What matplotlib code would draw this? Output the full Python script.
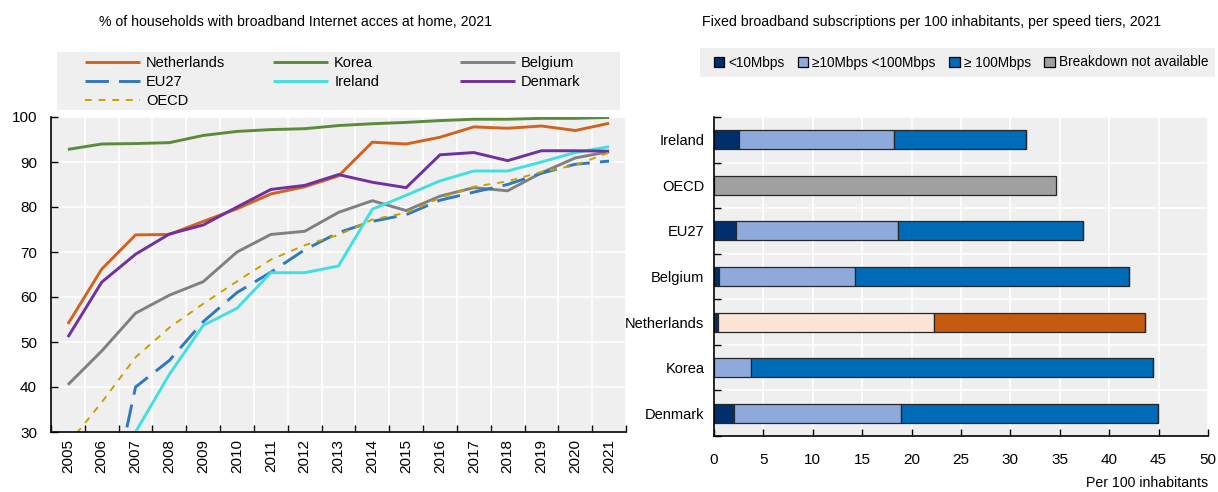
import matplotlib
matplotlib.use("Agg")
import matplotlib.pyplot as plt
import matplotlib.patches as mpatches
import numpy as np

plt.rcParams['font.family'] = ['Liberation Sans', 'DejaVu Sans']

# Households with broadband access, % (2005-2021)
years = list(range(2005, 2022))
netherlands = [54.0, 66.2, 73.8, 73.9, 76.8, 79.6, 82.9, 84.5, 86.9, 94.4, 94.0, 95.5, 97.8, 97.5, 98.0, 97.0, 98.6]
korea = [92.8, 94.0, 94.1, 94.3, 95.9, 96.8, 97.2, 97.4, 98.1, 98.5, 98.8, 99.2, 99.5, 99.5, 99.7, 99.7, 99.9]
belgium = [40.5, 48.0, 56.4, 60.4, 63.4, 70.0, 73.9, 74.6, 78.8, 81.4, 79.2, 82.4, 84.3, 83.6, 87.6, 90.9, 92.3]
eu27 = [np.nan, 5.0, 40.0, 45.9, 54.5, 61.0, 65.5, 70.5, 74.3, 76.8, 78.3, 81.5, 83.3, 85.0, 87.5, 89.5, 90.2]
ireland = [np.nan, np.nan, 30.0, 42.8, 53.7, 57.5, 65.4, 65.4, 66.9, 79.5, 82.6, 85.8, 88.0, 88.0, 90.0, 92.1, 93.4]
denmark = [51.1, 63.3, 69.5, 74.0, 76.0, 80.0, 83.9, 84.8, 87.2, 85.5, 84.3, 91.6, 92.1, 90.3, 92.5, 92.5, 92.4]
oecd = [27.3, 36.6, 46.6, 53.2, 58.5, 63.5, 68.3, 71.5, 73.8, 77.2, 78.7, 82.0, 84.5, 85.7, 87.8, 89.3, 92.1]

# Fixed broadband subscriptions per 100 inhabitants by speed tier, 2021
countries = ['Ireland', 'OECD', 'EU27', 'Belgium', 'Netherlands', 'Korea', 'Denmark']
below_10 = [2.5, 0.0, 2.25, 0.55, 0.4, 0.0, 2.0]
mid_10_100 = [15.7, 0.0, 16.35, 13.75, 21.9, 3.7, 16.9]
above_100 = [13.4, 0.0, 18.7, 27.7, 21.3, 40.7, 26.0]
not_available = [0.0, 34.6, 0.0, 0.0, 0.0, 0.0, 0.0]

BG = '#efefef'
W, H = 1218, 492
fig = plt.figure(figsize=(W / 100, H / 100), dpi=100)

# ---- left: line chart ----
ax1 = fig.add_axes([51 / W, 1 - 432 / H, 575 / W, 315 / H])
ax1.set_facecolor(BG)
x = np.arange(len(years))
series = [
    ('Netherlands', netherlands, dict(color='#d0641e', lw=2.1)),
    ('Korea', korea, dict(color='#5a8a3a', lw=2.1)),
    ('Belgium', belgium, dict(color='#808080', lw=2.1)),
    ('EU27', eu27, dict(color='#2e78c2', lw=2.1, dashes=(8, 3.5))),
    ('Ireland', ireland, dict(color='#40e0e0', lw=2.1)),
    ('Denmark', denmark, dict(color='#7030a0', lw=2.1)),
    ('OECD', oecd, dict(color='#c9a000', lw=1.4, dashes=(3.5, 3.5))),
]
handles = {}
for name, vals, kw in series:
    ln, = ax1.plot(x, vals, label=name, solid_capstyle='butt', **kw)
    handles[name] = ln

ax1.set_xlim(-0.5, len(years) - 0.5)
ax1.set_ylim(30, 100)
ax1.set_yticks(range(30, 101, 10))
ax1.set_xticks(x)
ax1.set_xticklabels([str(y) for y in years], rotation=90)
ax1.set_xticks(np.arange(-0.5, len(years), 1), minor=True)
ax1.tick_params(axis='x', which='major', length=0, pad=5, labelsize=11)
ax1.tick_params(axis='x', which='minor', direction='in', length=5, width=1)
ax1.tick_params(axis='y', direction='in', length=5, width=1, pad=10, labelsize=11)
ax1.grid(axis='y', color='white', lw=1.2)
ax1.grid(axis='x', which='minor', color='white', lw=1.2)
ax1.set_axisbelow(True)
for s in ['top', 'right']:
    ax1.spines[s].set_visible(False)
for s in ['left', 'bottom']:
    ax1.spines[s].set_linewidth(1.2)

fig.text(296 / W, 1 - 22 / H, '% of households with broadband Internet acces at home, 2021',
         ha='center', va='center', fontsize=10.2)

# legend box with three columns
fig.patches.append(mpatches.Rectangle((57 / W, 1 - 110 / H), 563 / W, 58 / H,
                                      transform=fig.transFigure, facecolor=BG, edgecolor='none'))
cols = [['Netherlands', 'EU27', 'OECD'], ['Korea', 'Ireland'], ['Belgium', 'Denmark']]
col_x = [82, 270, 457]
for names, cx in zip(cols, col_x):
    fig.legend([handles[n] for n in names], names, loc='upper left',
               bbox_to_anchor=(cx / W, 1 - 53 / H), frameon=False, fontsize=10.5,
               handlelength=3.8, handletextpad=0.4, labelspacing=0.36, borderpad=0.2,
               borderaxespad=0)

# ---- right: stacked bars ----
ax2 = fig.add_axes([714 / W, 1 - 436 / H, 494 / W, 319 / H])
ax2.set_facecolor(BG)
yy = np.arange(len(countries))[::-1]
h = 0.42
edge = dict(edgecolor='#262626', linewidth=0.9)
nl = countries.index('Netherlands')
c_mid = ['#fbe4d5' if i == nl else '#8eaadc' for i in range(len(countries))]
c_hi = ['#c55a11' if i == nl else '#006bb6' for i in range(len(countries))]
left = np.zeros(len(countries))
ax2.barh(yy, below_10, left=left, height=h, color='#002f6c', **edge)
left += below_10
ax2.barh(yy, mid_10_100, left=left, height=h, color=c_mid, **edge)
left += mid_10_100
ax2.barh(yy, above_100, left=left, height=h, color=c_hi, **edge)
left += above_100
ax2.barh(yy, not_available, left=left, height=h, color='#a0a0a0', **edge)

ax2.set_xlim(0, 50)
ax2.set_ylim(-0.5, len(countries) - 0.5)
ax2.set_xticks(range(0, 51, 5))
ax2.set_yticks(yy)
ax2.set_yticklabels(countries)
ax2.set_yticks(np.arange(-0.5, len(countries), 1), minor=True)
ax2.tick_params(axis='y', which='major', length=0, pad=7, labelsize=10.5)
ax2.tick_params(axis='y', which='minor', direction='in', length=5, width=1)
ax2.tick_params(axis='x', direction='in', length=5, width=1, pad=12, labelsize=11)
ax2.grid(axis='x', color='white', lw=1.2)
ax2.grid(axis='y', which='minor', color='white', lw=1.2)
ax2.set_axisbelow(True)
for s in ['top', 'right']:
    ax2.spines[s].set_visible(False)
for s in ['left', 'bottom']:
    ax2.spines[s].set_linewidth(1.2)

fig.text(932 / W, 1 - 22 / H,
         'Fixed broadband subscriptions per 100 inhabitants, per speed tiers, 2021',
         ha='center', va='center', fontsize=10.2)
fig.text(1208 / W, 1 - 483 / H, 'Per 100 inhabitants', ha='right', va='center', fontsize=10.2)

tier_labels = ['<10Mbps', '\u226510Mbps <100Mbps', '\u2265 100Mbps', 'Breakdown not available']
tier_colors = ['#002f6c', '#8eaadc', '#006bb6', '#a0a0a0']
patches = [mpatches.Patch(facecolor=c, edgecolor='black', linewidth=0.9, label=l)
           for c, l in zip(tier_colors, tier_labels)]
fig.patches.append(mpatches.Rectangle((700 / W, 1 - 77 / H), 515 / W, 29 / H,
                                      transform=fig.transFigure, facecolor=BG, edgecolor='none'))
fig.legend(handles=patches, loc='center', ncol=4,
           bbox_to_anchor=(961 / W, 1 - 62.5 / H),
           fontsize=9.8, handlelength=0.75, handleheight=0.75, handletextpad=0.3,
           columnspacing=1.0, frameon=False, borderaxespad=0)

fig.savefig('out.png', dpi=100)
